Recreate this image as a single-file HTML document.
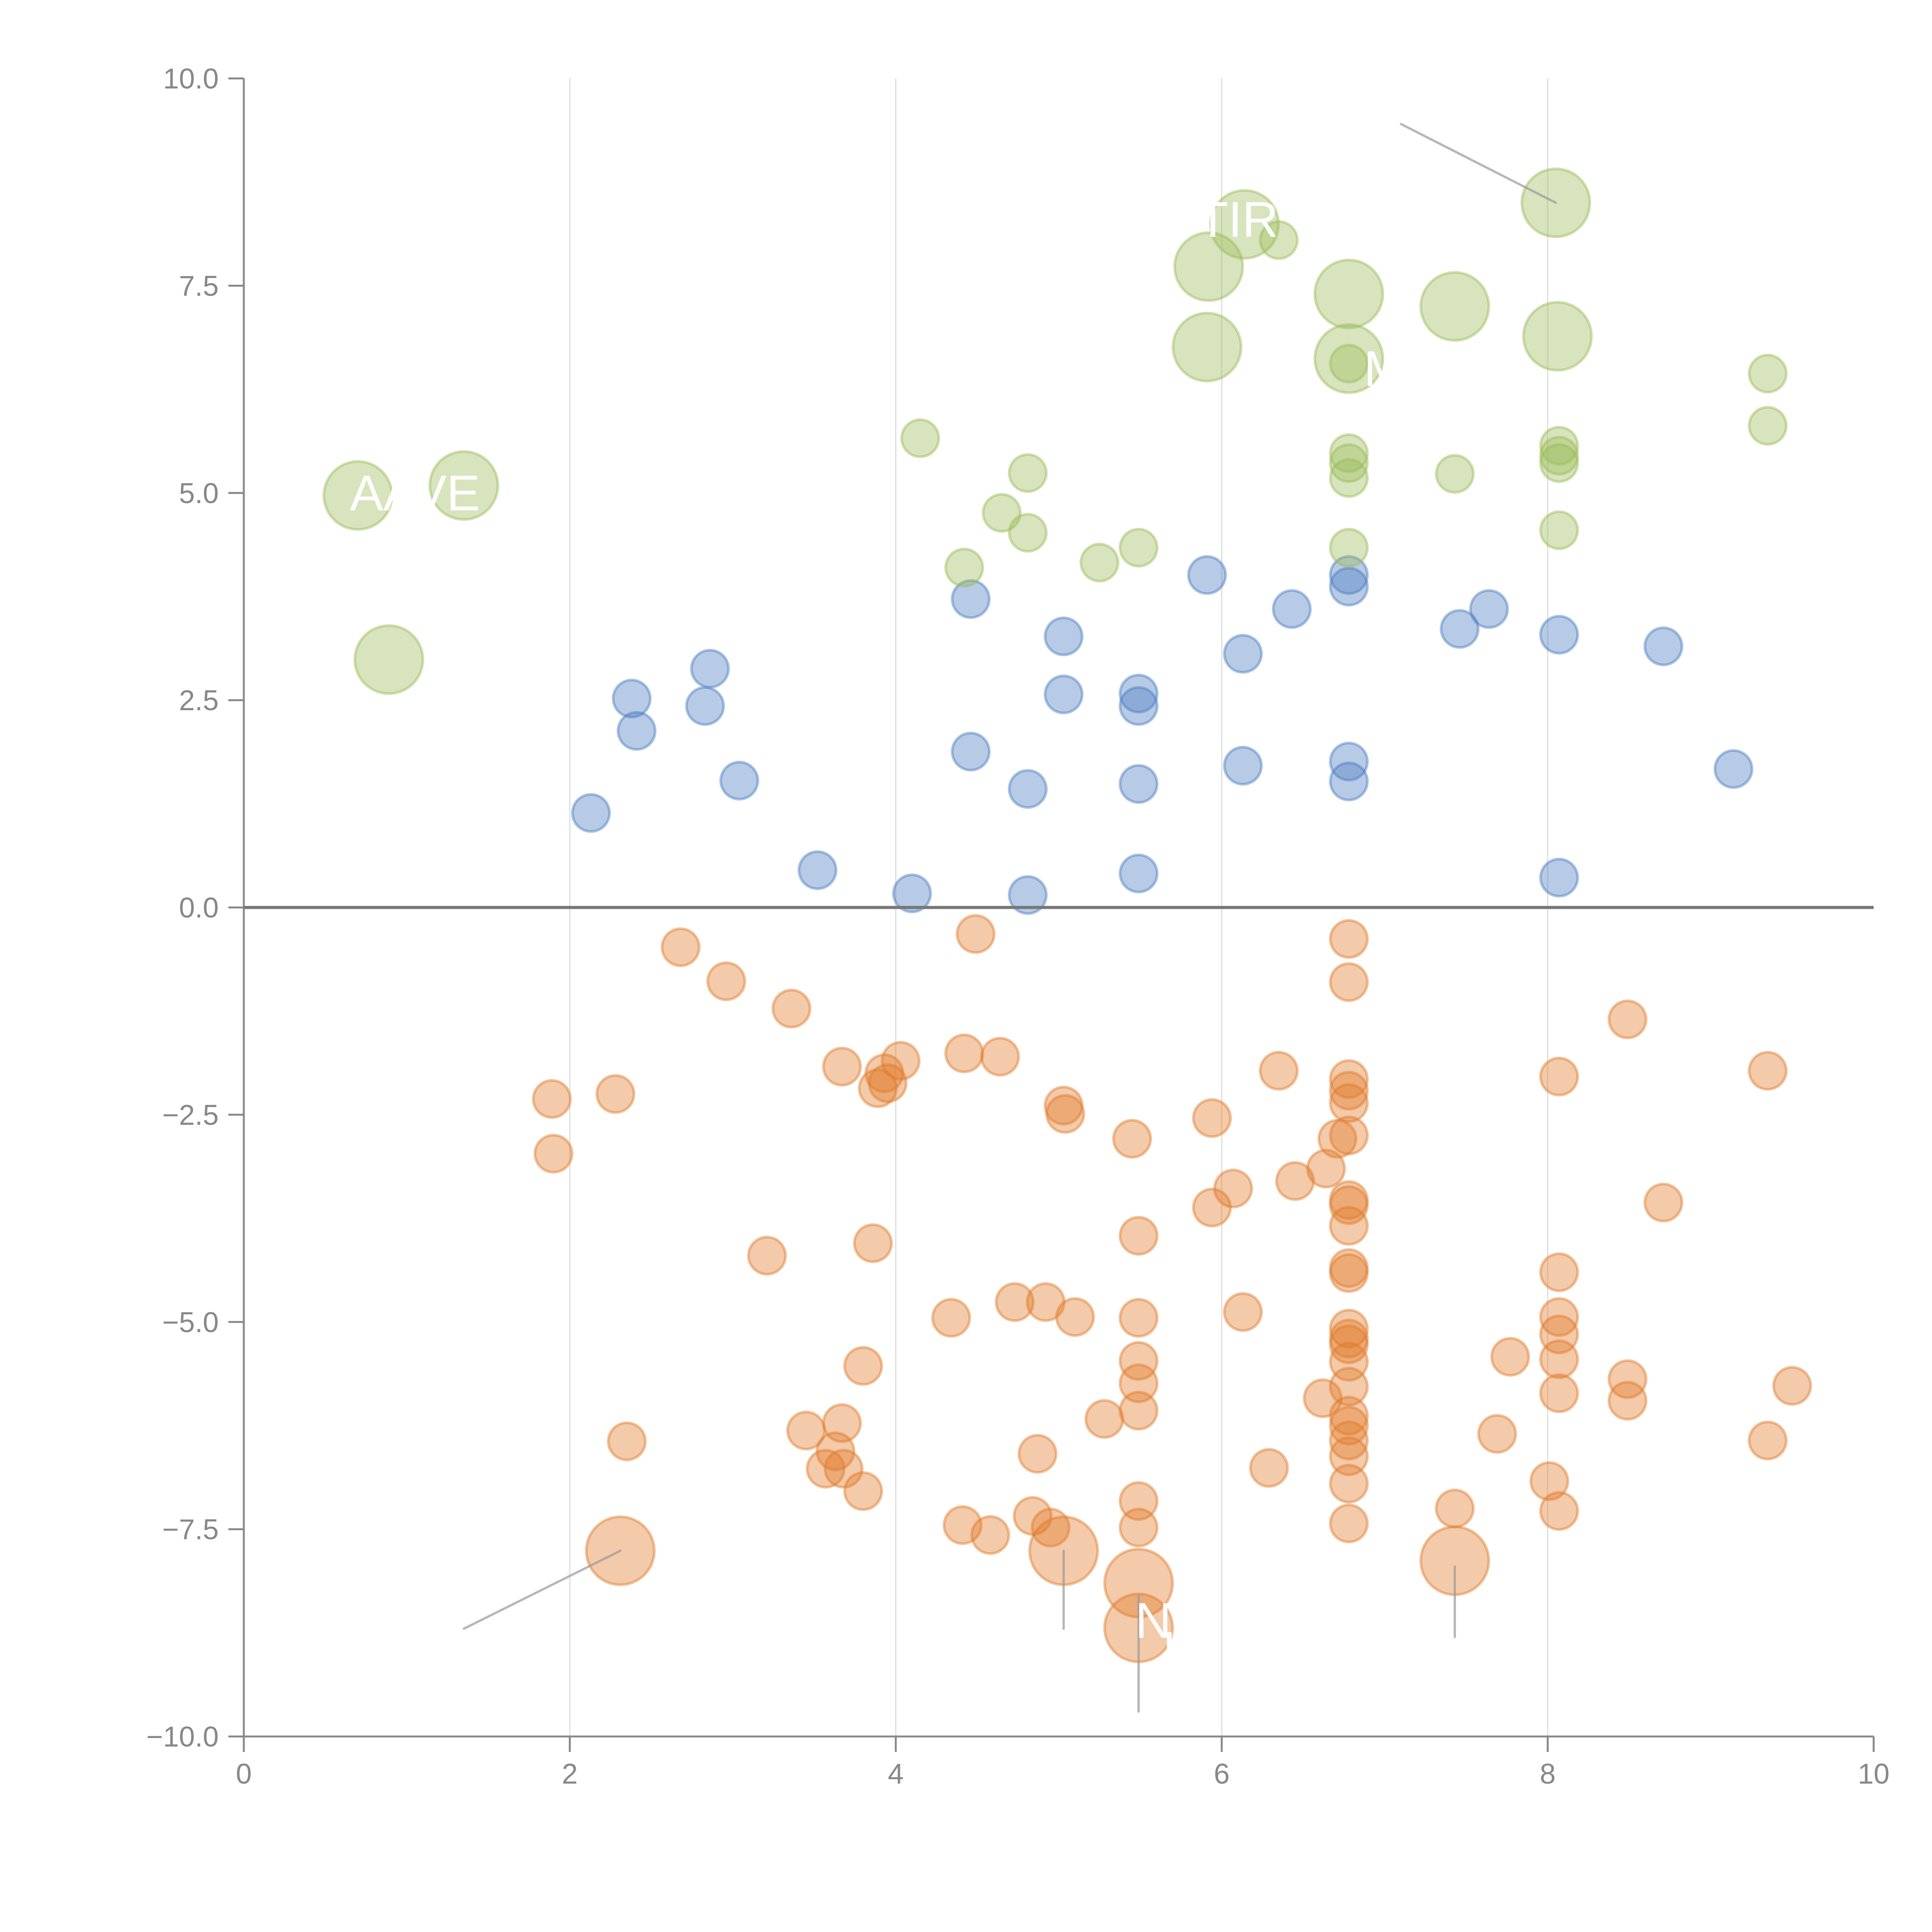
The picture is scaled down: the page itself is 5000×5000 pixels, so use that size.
<!DOCTYPE html>
<html><head><meta charset="utf-8"><style>html,body{margin:0;padding:0;background:#fff}svg{display:block}</style></head>
<body>
<svg id="chart" xmlns="http://www.w3.org/2000/svg" width="5000" height="5000" viewBox="0 0 5000 5000" font-family="Liberation Sans, sans-serif">
<rect width="5000" height="5000" fill="#fff"/>
<g id="grid"></g>
<g id="marks"></g>
<g id="axes"></g>
<g id="labels"></g>
</svg>
<script>
const greenX=[0.70,1.35,0.89,8.05,6.14,6.35,5.92,5.91,6.78,6.78,6.78,7.43,8.06,9.35,9.35,4.15,4.81,4.65,4.81,4.42,5.25,5.49,6.78,6.78,6.78,6.78,7.43,8.07,8.07,8.07,8.07];
const greenY=[4.97,5.09,2.99,8.50,8.24,8.05,7.73,6.76,7.40,6.62,6.56,7.25,6.89,6.44,5.81,5.66,5.24,4.76,4.52,4.10,4.16,4.34,5.48,5.36,5.18,4.34,5.23,5.57,5.45,5.36,4.55];
const greenS=[2,2,2,2,2,1,2,2,2,2,1,2,2,1,1,1,1,1,1,1,1,1,1,1,1,1,1,1,1,1,1];
const blueX=[5.91,4.46,6.43,6.78,6.78,7.64,7.46,8.07,8.71,5.03,6.13,2.86,2.38,2.83,2.41,5.03,5.49,5.49,4.46,6.13,6.78,6.78,9.14,3.04,2.13,4.81,5.49,3.52,4.10,4.81,5.49,8.07];
const blueY=[4.01,3.72,3.60,4.01,3.87,3.60,3.36,3.29,3.15,3.27,3.06,2.88,2.52,2.43,2.13,2.57,2.58,2.43,1.88,1.71,1.76,1.52,1.67,1.53,1.14,1.43,1.49,0.45,0.17,0.15,0.41,0.36];
const orangeX=[2.68,4.49,6.78,2.96,6.78,3.36,8.49,1.89,2.28,1.90,3.67,4.03,3.93,3.95,3.89,4.42,4.64,5.03,5.04,5.45,5.94,6.35,6.78,6.78,6.78,6.78,6.71,6.64,8.07,9.35,6.07,5.94,6.45,6.78,6.78,6.78,8.71,5.49,3.86,3.21,6.78,6.78,8.07,4.34,4.73,4.92,5.10,5.49,6.13,6.78,6.78,6.78,6.78,8.07,8.07,8.07,7.77,8.49,8.49,9.50,8.07,3.80,5.49,5.49,5.49,5.28,6.62,6.78,6.78,6.78,6.78,6.78,6.78,6.78,7.69,9.35,2.35,3.45,3.67,3.63,3.57,3.68,3.80,4.87,6.29,8.01,8.07,7.43,4.41,4.58,4.84,4.95,5.49,5.49,2.31,5.03,5.49,5.49,7.43];
const orangeY=[-0.48,-0.32,-0.38,-0.89,-0.90,-1.22,-1.35,-2.31,-2.25,-2.97,-1.92,-1.85,-2.00,-2.12,-2.18,-1.76,-1.80,-2.39,-2.49,-2.79,-2.54,-1.97,-2.07,-2.21,-2.36,-2.75,-2.79,-3.15,-2.04,-1.97,-3.39,-3.62,-3.30,-3.53,-3.59,-3.84,-3.56,-3.96,-4.05,-4.20,-4.35,-4.41,-4.40,-4.95,-4.76,-4.76,-4.94,-4.95,-4.88,-5.08,-5.20,-5.27,-5.48,-4.94,-5.15,-5.45,-5.42,-5.69,-5.95,-5.77,-5.86,-5.53,-5.47,-5.74,-6.07,-6.17,-5.92,-5.78,-6.13,-6.25,-6.43,-6.62,-6.95,-7.43,-6.35,-6.43,-6.44,-6.31,-6.22,-6.56,-6.77,-6.77,-7.04,-6.59,-6.76,-6.92,-7.28,-7.25,-7.45,-7.57,-7.34,-7.48,-7.16,-7.48,-7.76,-7.76,-8.15,-8.69,-7.88];
const orangeS=orangeX.map((v,i)=>i>=orangeX.length-5?2:1);
const xTicks=[0,2,4,6,8,10];
const xTickLabels=["0","2","4","6","8","10"];
const yTicks=[10,7.5,5,2.5,0,-2.5,-5,-7.5,-10];
const yTickLabels=["10.0","7.5","5.0","2.5","0.0","\u22122.5","\u22125.0","\u22127.5","\u221210.0"];
const textLabels=["AAVE","TIR","M","NG","H"];
const textLabelX=[1.05,6.1,7.0,5.7,5.75];
const textLabelY=[5.0,8.3,6.5,-8.6,-8.95];

const NS="http://www.w3.org/2000/svg";
const X0=631,X1=4849,Y0=203,Y1=4494;
const sx=v=>X0+(v-0)/(10-0)*(X1-X0);
const sy=v=>Y1-(v+10)/20*(Y1-Y0);
function mk(tag,attrs,parent){const e=document.createElementNS(NS,tag);for(const k in attrs)e.setAttribute(k,attrs[k]);parent.appendChild(e);return e;}
const grid=document.getElementById('grid'),marks=document.getElementById('marks'),axes=document.getElementById('axes'),labels=document.getElementById('labels');
xTicks.forEach((t,i)=>{
  if(t>0&&t<10){const g=mk('line',{x1:sx(t),x2:sx(t),y1:Y0,y2:Y1,stroke:'#dcdcdc','stroke-width':3},grid);
  
  }
  const tk=mk('line',{x1:sx(t),x2:sx(t),y1:Y1,y2:Y1+40,stroke:'#888','stroke-width':5},axes);
  
  
  const tx=mk('text',{x:sx(t),y:Y1+122,'text-anchor':'middle','font-size':74,fill:'#888'},axes);
  tx.textContent=xTickLabels[i];
  
  
});
yTicks.forEach((t,i)=>{
  const tk=mk('line',{x1:X0-40,x2:X0,y1:sy(t),y2:sy(t),stroke:'#888','stroke-width':5},axes);
  
  
  const tx=mk('text',{x:X0-65,y:sy(t)+26,'text-anchor':'end','font-size':74,fill:'#888'},axes);
  tx.textContent=yTickLabels[i];
  
  
});
const ya=mk('line',{x1:X0,x2:X0,y1:Y0,y2:Y1,stroke:'#888','stroke-width':5},axes);


const xa=mk('line',{x1:X0,x2:X1,y1:Y1,y2:Y1,stroke:'#888','stroke-width':5},axes);


const zl=mk('line',{x1:X0,x2:X1,y1:sy(0),y2:sy(0),stroke:'#777','stroke-width':8},axes);


const R=[0,48,88];
function series(xs,ys,ss,color,name){
  xs.forEach((x,i)=>{
    const c=mk('circle',{cx:sx(x),cy:sy(ys[i]),r:R[ss?ss[i]:1],fill:color,'fill-opacity':0.4,stroke:color,'stroke-opacity':0.45,'stroke-width':7},marks);
    
    
  });
}
series(orangeX,orangeY,orangeS,'#e07b2a','orange-bubble');
series(blueX,blueY,null,'#4a7cc0','blue-bubble');
series(greenX,greenY,greenS,'#9bbb59','green-bubble');
// leader lines (annotation connectors)
const leaders=[[1.35,-8.70,2.31,-7.76],[5.03,-7.76,5.03,-8.70],[5.49,-8.30,5.49,-9.70],[7.43,-7.95,7.43,-8.80],[7.10,9.45,8.05,8.50]];
leaders.forEach(l=>{
  const e=mk('line',{x1:sx(l[0]),y1:sy(l[1]),x2:sx(l[2]),y2:sy(l[3]),stroke:'#999','stroke-opacity':0.7,'stroke-width':6,'stroke-linecap':'round'},labels);
  
  
});
textLabels.forEach((t,i)=>{
  const e=mk('text',{x:sx(textLabelX[i]),y:sy(textLabelY[i])+45,'text-anchor':'middle','font-size':130,fill:'#fff'},labels);
  e.textContent=t;
  
  
});
</script>
</body></html>
